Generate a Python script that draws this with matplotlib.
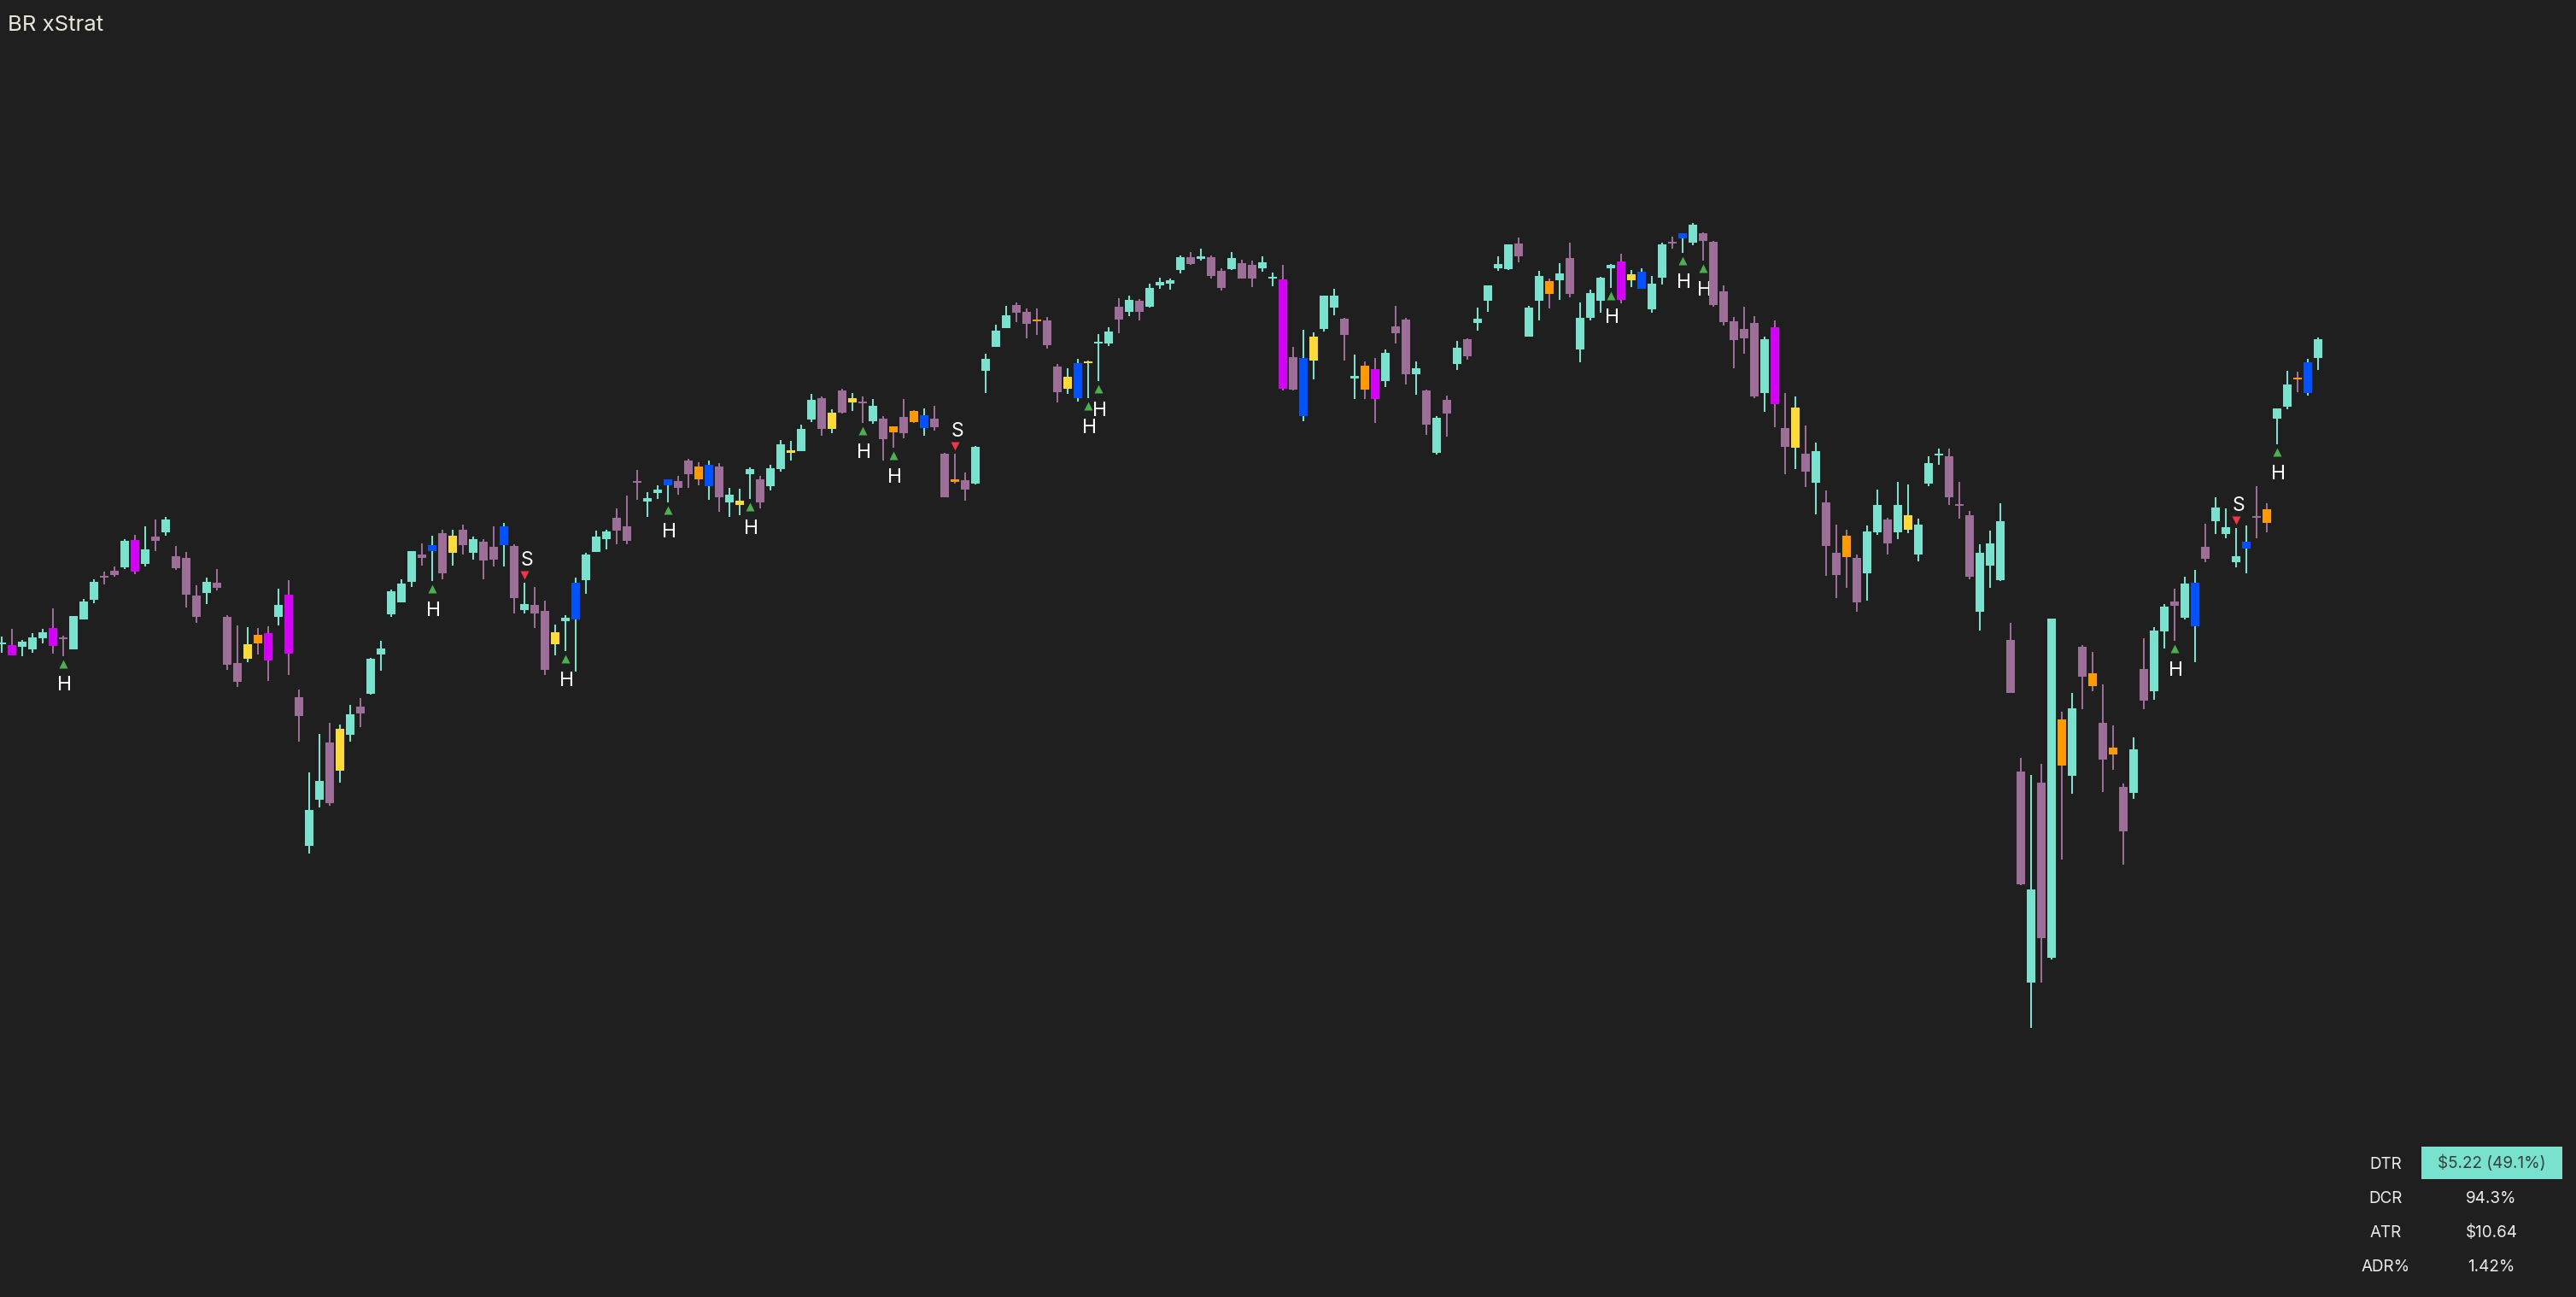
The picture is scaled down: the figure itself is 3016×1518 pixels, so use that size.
"""
BR xStrat candlestick chart, dark theme, with Strat bar colouring,
hammer (H) / shooter (S) markers and the DTR / DCR / ATR / ADR% stat table.

Writes out.png (3016x1518).
"""
import matplotlib

matplotlib.use("Agg")
import matplotlib.pyplot as plt
import numpy as np
from matplotlib.patches import Rectangle
from matplotlib.transforms import offset_copy

# ---- data (daily bars, oldest first) ----
opens = [
    549.1, 549.0, 548.5, 548.0, 550.5, 553.0, 550.8, 548.0, 555.0, 559.6,
    565.2, 566.3, 567.2, 573.6, 568.0, 574.4, 575.4, 569.8, 569.4, 560.6,
    561.2, 563.6, 555.6, 544.8, 545.8, 551.4, 551.8, 555.6, 560.8, 536.8,
    502.0, 512.8, 526.2, 519.6, 528.0, 534.6, 537.6, 546.8, 556.2, 559.0,
    563.8, 570.2, 571.0, 575.2, 570.6, 576.0, 570.6, 573.2, 572.0, 572.4,
    572.2, 557.2, 558.4, 557.0, 549.2, 554.6, 555.0, 564.2, 570.8, 573.8,
    578.8, 576.8, 587.4, 582.6, 584.6, 586.4, 587.4, 592.2, 590.8, 586.2,
    590.8, 582.4, 581.8, 589.0, 587.8, 586.2, 590.2, 594.0, 594.4, 601.8,
    606.8, 599.6, 608.6, 605.8, 606.0, 601.4, 602.0, 600.2, 602.4, 603.8,
    599.8, 602.0, 593.8, 587.8, 587.6, 586.8, 613.2, 618.8, 623.2, 628.6,
    627.0, 625.2, 625.0, 614.2, 609.0, 606.8, 615.0, 619.6, 619.6, 628.2,
    627.0, 629.6, 628.2, 633.2, 633.6, 636.8, 639.8, 639.4, 639.8, 636.6,
    637.0, 638.4, 638.0, 637.2, 634.8, 634.6, 616.4, 602.6, 615.6, 623.0,
    628.0, 625.4, 611.4, 614.4, 613.6, 610.8, 623.6, 625.2, 612.4, 608.6,
    594.0, 606.4, 614.8, 620.6, 624.4, 629.6, 637.2, 637.0, 643.0, 621.2,
    629.6, 634.2, 634.4, 639.6, 618.2, 625.6, 629.6, 637.2, 638.8, 634.4,
    632.4, 627.6, 635.0, 643.4, 644.2, 643.2, 645.4, 643.4, 631.8, 624.8,
    623.0, 624.4, 608.0, 623.4, 599.8, 595.2, 593.8, 587.0, 582.4, 570.6,
    574.6, 569.4, 565.8, 575.4, 578.4, 575.4, 576.0, 570.2, 586.8, 593.4,
    593.2, 582.0, 579.4, 556.8, 567.6, 564.2, 550.2, 519.4, 469.9, 516.8,
    475.8, 531.6, 518.3, 548.6, 542.4, 530.8, 525.0, 515.8, 514.3, 543.4,
    538.1, 552.2, 559.2, 555.4, 553.4, 572.0, 578.0, 575.0, 568.4, 571.6,
    579.2, 580.8, 602.0, 604.8, 611.6, 608.0, 616.2,
]
highs = [
    551.0, 552.8, 550.2, 551.8, 552.8, 557.6, 551.2, 555.8, 559.8, 564.4,
    566.2, 567.4, 573.8, 574.8, 576.8, 578.4, 579.0, 572.2, 570.8, 563.0,
    564.8, 566.8, 556.0, 553.6, 553.2, 553.0, 553.4, 562.2, 564.2, 538.6,
    519.2, 528.2, 530.8, 530.4, 535.0, 536.6, 546.0, 550.0, 562.0, 564.4,
    571.0, 572.8, 574.6, 576.0, 576.0, 577.2, 574.4, 573.8, 576.8, 577.6,
    572.6, 563.6, 562.6, 559.4, 553.8, 556.0, 564.8, 570.6, 575.8, 576.0,
    581.0, 584.0, 590.0, 584.8, 586.4, 587.8, 588.6, 592.6, 591.8, 592.2,
    591.6, 585.8, 585.6, 590.6, 588.6, 591.2, 597.0, 596.8, 600.6, 607.8,
    607.2, 604.2, 609.0, 608.0, 607.2, 606.6, 602.6, 600.2, 606.6, 604.0,
    604.4, 605.0, 594.0, 593.8, 589.4, 595.6, 617.2, 624.0, 628.4, 629.2,
    627.8, 627.8, 625.8, 614.8, 613.8, 616.0, 615.6, 621.8, 623.4, 630.2,
    630.8, 630.0, 633.6, 635.0, 634.8, 640.2, 641.0, 641.8, 640.2, 637.2,
    641.0, 639.2, 639.0, 640.0, 636.2, 638.0, 618.8, 622.8, 622.2, 630.8,
    632.4, 625.6, 617.0, 615.4, 616.2, 618.2, 628.4, 625.6, 615.4, 608.8,
    602.6, 607.4, 620.2, 620.8, 628.0, 633.2, 640.0, 642.8, 644.4, 628.4,
    636.6, 634.8, 638.4, 643.2, 629.2, 632.2, 635.2, 638.2, 640.6, 636.8,
    637.2, 635.4, 643.2, 644.6, 645.4, 647.8, 645.6, 643.6, 633.2, 625.8,
    628.2, 626.0, 621.2, 625.0, 608.0, 607.2, 600.4, 596.4, 585.2, 577.2,
    576.0, 570.2, 577.0, 585.4, 578.8, 587.2, 586.6, 578.6, 593.2, 595.0,
    595.0, 587.2, 580.4, 572.6, 575.8, 582.2, 554.2, 522.6, 518.6, 521.2,
    555.2, 533.4, 537.8, 549.0, 547.4, 539.8, 530.2, 516.6, 527.4, 550.6,
    553.3, 558.6, 562.2, 565.0, 566.6, 577.4, 583.6, 581.0, 576.4, 577.0,
    586.2, 582.2, 604.4, 613.2, 613.0, 616.0, 621.0,
]
lows = [
    547.3, 546.6, 546.5, 547.3, 549.5, 547.0, 546.5, 548.0, 555.0, 558.8,
    563.2, 565.0, 566.8, 565.6, 567.4, 571.0, 574.6, 566.6, 557.8, 554.2,
    558.6, 561.8, 543.2, 539.2, 545.0, 546.8, 540.6, 553.6, 542.0, 526.4,
    500.2, 511.0, 511.4, 516.8, 526.4, 529.8, 537.4, 543.0, 555.6, 559.0,
    562.6, 567.6, 564.0, 564.4, 567.6, 570.2, 569.0, 564.4, 567.4, 567.4,
    556.4, 556.4, 553.0, 542.0, 546.6, 547.6, 542.8, 561.0, 570.8, 571.4,
    572.6, 572.6, 583.0, 579.0, 583.2, 582.4, 584.2, 585.8, 586.4, 583.0,
    580.2, 579.0, 579.4, 583.2, 581.0, 585.2, 589.6, 592.2, 594.4, 601.2,
    598.0, 598.6, 603.2, 603.8, 601.0, 600.8, 592.2, 595.2, 597.4, 601.0,
    598.0, 599.2, 583.6, 586.8, 582.8, 586.6, 608.0, 618.8, 623.2, 624.6,
    620.8, 621.6, 618.4, 605.8, 607.8, 606.0, 606.8, 610.8, 619.0, 622.0,
    626.0, 625.0, 628.0, 632.4, 632.2, 636.0, 638.0, 639.0, 634.8, 632.0,
    636.8, 634.8, 632.8, 636.4, 633.0, 608.6, 608.6, 601.4, 611.2, 622.4,
    626.2, 615.6, 606.6, 606.6, 601.0, 609.4, 619.6, 610.0, 607.6, 598.2,
    593.6, 597.8, 613.4, 615.8, 622.6, 627.0, 636.6, 636.8, 638.6, 621.2,
    625.0, 627.8, 629.8, 630.4, 615.2, 625.0, 626.8, 632.6, 629.0, 632.8,
    632.4, 626.8, 633.4, 641.8, 640.8, 642.6, 639.0, 628.2, 623.8, 613.8,
    617.2, 606.8, 603.6, 600.0, 589.0, 590.2, 586.0, 579.6, 565.2, 560.0,
    562.4, 556.8, 559.4, 574.8, 570.2, 573.8, 575.2, 568.6, 586.2, 591.2,
    581.8, 578.6, 564.4, 552.5, 562.4, 564.0, 537.8, 492.9, 459.5, 470.1,
    475.5, 498.8, 514.3, 534.0, 538.2, 514.7, 519.9, 497.7, 513.1, 534.0,
    536.2, 548.2, 550.0, 555.0, 545.0, 568.4, 575.0, 574.0, 567.2, 565.8,
    574.0, 575.4, 596.0, 604.2, 608.2, 607.4, 613.4,
]
closes = [
    549.5, 546.6, 549.8, 550.8, 552.0, 548.7, 550.3, 555.8, 559.2, 563.8,
    564.8, 565.4, 573.4, 566.2, 571.4, 573.4, 578.4, 567.0, 560.8, 555.6,
    563.8, 562.4, 544.4, 540.4, 549.2, 549.4, 545.4, 558.4, 547.0, 532.4,
    510.4, 517.2, 512.0, 529.4, 532.8, 533.0, 545.8, 548.2, 561.6, 563.4,
    571.0, 569.4, 572.4, 565.8, 574.6, 572.4, 573.8, 568.8, 569.0, 576.8,
    560.0, 558.6, 556.4, 543.2, 552.0, 555.4, 563.6, 570.2, 574.4, 575.6,
    575.8, 573.4, 587.0, 583.4, 585.4, 587.8, 585.8, 589.0, 587.8, 591.2,
    583.6, 584.2, 582.8, 590.2, 582.4, 590.4, 596.0, 594.6, 599.6, 606.4,
    599.6, 603.4, 603.4, 606.8, 605.6, 605.0, 597.2, 598.8, 598.6, 601.2,
    602.8, 600.0, 583.6, 587.2, 585.4, 595.4, 616.0, 622.6, 626.2, 626.8,
    624.2, 624.8, 619.2, 608.2, 611.8, 615.0, 615.4, 620.0, 622.4, 625.2,
    629.8, 627.0, 632.6, 634.0, 634.4, 639.8, 638.2, 640.0, 635.4, 632.6,
    639.6, 634.8, 634.8, 638.6, 635.2, 609.0, 608.8, 616.2, 621.2, 630.8,
    630.8, 621.6, 612.0, 608.8, 606.6, 617.4, 622.0, 612.4, 613.8, 600.6,
    602.2, 603.2, 618.6, 616.6, 625.4, 633.2, 638.2, 642.8, 640.0, 628.0,
    635.4, 631.2, 636.0, 631.2, 625.6, 631.4, 635.0, 638.0, 629.8, 635.8,
    636.4, 633.6, 642.8, 643.0, 645.4, 647.4, 643.6, 628.6, 624.6, 620.4,
    620.8, 607.2, 620.6, 605.4, 595.4, 604.6, 589.6, 594.4, 572.2, 565.4,
    569.6, 559.0, 575.6, 581.8, 572.8, 581.8, 579.4, 577.2, 591.6, 593.8,
    583.6, 581.6, 565.0, 570.6, 572.8, 578.0, 537.8, 492.9, 491.8, 480.3,
    555.2, 520.7, 534.2, 541.5, 539.3, 522.1, 523.3, 505.3, 524.6, 536.0,
    552.4, 558.0, 558.2, 563.4, 563.6, 569.2, 581.2, 576.6, 569.8, 573.2,
    578.8, 577.6, 604.4, 610.0, 611.2, 615.2, 620.6,
]

# Strat bar types (bar index): inside bars (1) and outside bars (3)
inside_bars = [24, 25, 33, 44, 54, 68, 72, 77, 81, 83, 87, 89, 93, 101, 104, 106,
               128, 133, 151, 159, 175, 180, 186, 201, 204, 206, 221, 224]
outside_bars = [1, 5, 13, 26, 28, 42, 49, 56, 65, 69, 90, 105, 125, 127, 134,
                158, 160, 164, 173, 214, 219, 225]

# signal bars
hammer_bars = [6, 42, 55, 65, 73, 84, 87, 106, 107, 157, 164, 166, 212, 222]
shooter_bars = [51, 93, 218]

stat_labels = ["DTR", "DCR", "ATR", "ADR%"]
stat_values = ["$5.22 (49.1%)", "94.3%", "$10.64", "1.42%"]

# ---- style ----
BG = "#1f1f1f"
UP = "#78e2ce"
DOWN = "#9d6f98"
INSIDE_UP = "#ffdb37"
INSIDE_DN = "#ff9a00"
OUTSIDE_UP = "#0052ff"
OUTSIDE_DN = "#d400f8"
GREEN = "#4caf50"
RED = "#f23645"
W, H = 3016, 1518

plt.rcParams["font.family"] = ["Inter", "DejaVu Sans"]

o = np.array(opens)
h = np.array(highs)
l = np.array(lows)
c = np.array(closes)
assert len(o) == len(h) == len(l) == len(c)
x = np.arange(len(o))
bull = c >= o

body_col = np.where(bull, UP, DOWN).astype(object)
for i in inside_bars:
    body_col[i] = INSIDE_UP if bull[i] else INSIDE_DN
for i in outside_bars:
    body_col[i] = OUTSIDE_UP if bull[i] else OUTSIDE_DN
wick_col = np.where(bull, UP, DOWN)

fig = plt.figure(figsize=(W / 100, H / 100), dpi=100, facecolor=BG)
ax = fig.add_axes([0, 0, 1, 1])
ax.set_facecolor(BG)

ax.vlines(x, l, h, colors=wick_col, linewidth=1.45, zorder=2)
ax.bar(x, np.abs(c - o), bottom=np.minimum(o, c), width=0.83,
       color=list(body_col), linewidth=0, zorder=3)

# hammer markers: green triangle under the low, "H" below it
hx = np.array(hammer_bars)
tri_dn = offset_copy(ax.transData, fig=fig, x=0, y=-9, units="dots")
ax.plot(hx, l[hx], transform=tri_dn, linestyle="none", marker="^", ms=6.5,
        color=GREEN, mec="none", zorder=4)
lab_dn = offset_copy(ax.transData, fig=fig, x=2, y=-41, units="dots")
for i in hammer_bars:
    ax.text(i, l[i], "H", transform=lab_dn, ha="center", va="baseline",
            fontsize=16.5, color="white", zorder=1)

# shooter markers: red triangle over the high, "S" above it
sx = np.array(shooter_bars)
tri_up = offset_copy(ax.transData, fig=fig, x=0, y=9, units="dots")
ax.plot(sx, h[sx], transform=tri_up, linestyle="none", marker="v", ms=6.5,
        color=RED, mec="none", zorder=4)
lab_up = offset_copy(ax.transData, fig=fig, x=3, y=20, units="dots")
for i in shooter_bars:
    ax.text(i, h[i], "S", transform=lab_up, ha="center", va="baseline",
            fontsize=16.5, color="white", zorder=1)

ax.set_xlim(-0.14, 251.2)
ax.set_ylim(396.4, 700)
ax.axis("off")

# title
fig.text(9 / W, 1 - 36 / H, "BR xStrat", fontsize=18.5, color="#ebe6da",
         ha="left", va="baseline")

# stat table, bottom right
fig.add_artist(Rectangle((2835 / W, 1 - 1380 / H), 165 / W, 38 / H,
                         transform=fig.transFigure, color=UP, lw=0, zorder=2))
row_base = [1367.5, 1408, 1448, 1488.5]
for k, (lab, val) in enumerate(zip(stat_labels, stat_values)):
    yb = 1 - row_base[k] / H
    fig.text(2793 / W, yb, lab, fontsize=13.6, color="#ececec",
             ha="center", va="baseline", zorder=3)
    fig.text(2917 / W, yb, val, fontsize=13.6,
             color="#34423f" if k == 0 else "#ececec",
             ha="center", va="baseline", zorder=3)

fig.savefig("out.png", dpi=100, facecolor=BG)
